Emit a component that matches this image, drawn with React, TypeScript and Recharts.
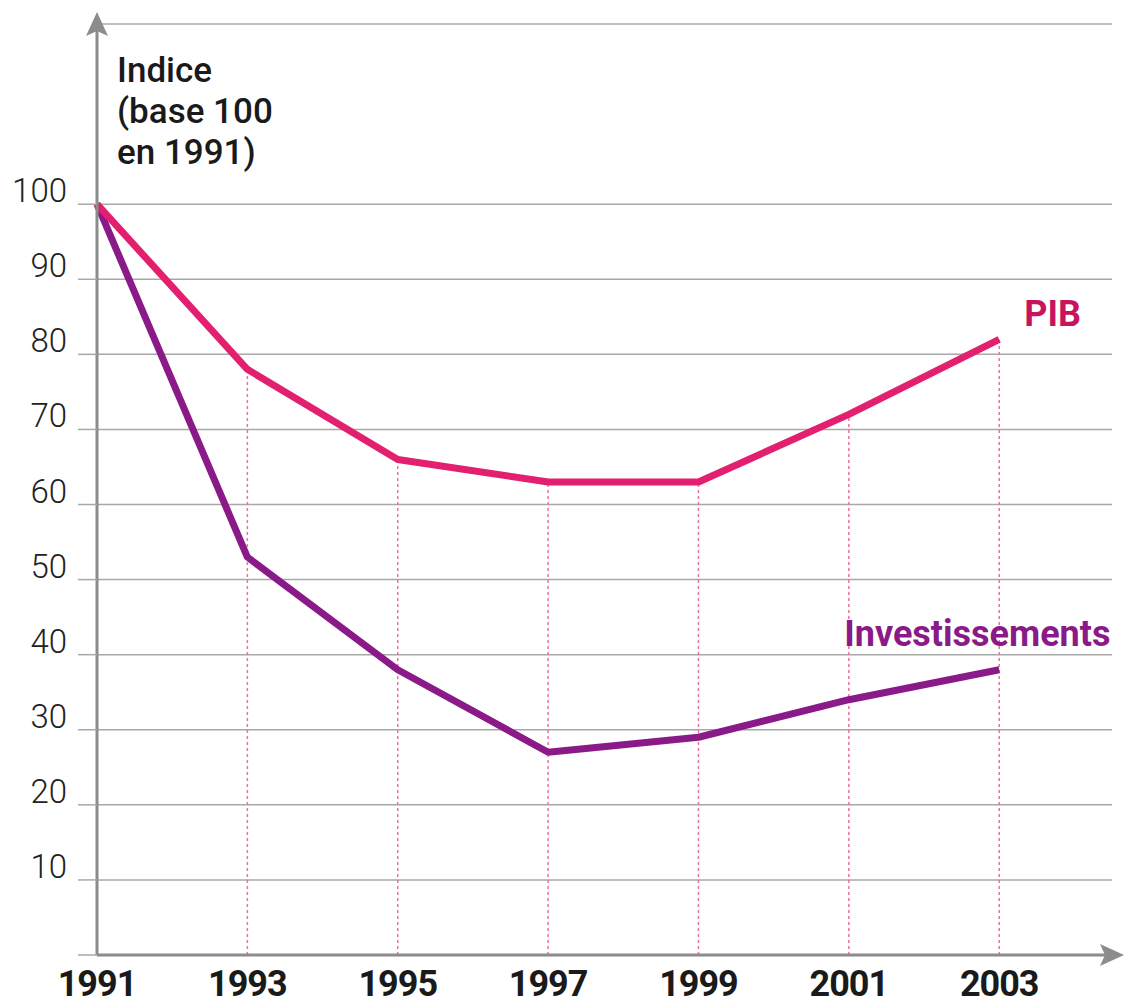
import {
  CartesianGrid,
  LabelList,
  Line,
  LineChart,
  ReferenceLine,
  XAxis,
  YAxis,
} from "recharts";

const years = [1991, 1993, 1995, 1997, 1999, 2001, 2003];
const pib = [100, 78, 66, 63, 63, 72, 82];
const investissements = [100, 53, 38, 27, 29, 34, 38];
const yTicks = [0, 10, 20, 30, 40, 50, 60, 70, 80, 90, 100];
const yTitle = ["Indice", "(base 100", "en 1991)"];

const data = years.map((year, i) => ({
  year,
  pib: pib[i],
  investissements: investissements[i],
}));

const PIB_COLOR = "#e2206f";
const PIB_TEXT = "#c8145f";
const INV_COLOR = "#8b1a89";
const AXIS_GREY = "#8c8c8c";
const GRID_GREY = "#a8a8a8";

function YTick({ x, y, payload }: any) {
  if (payload.value === 0) return <g />;
  return (
    <text
      x={x}
      y={y}
      dy={-2}
      textAnchor="end"
      fill="#222"
      fontFamily="Roboto, sans-serif"
      fontWeight={300}
      fontSize={33}
    >
      {payload.value}
    </text>
  );
}

function XTick({ x, y, payload }: any) {
  return (
    <text
      x={x}
      y={y}
      dy={33}
      textAnchor="middle"
      fill="#1a1a1a"
      fontFamily="Roboto, sans-serif"
      fontWeight={700}
      fontSize={36}
      letterSpacing={-1}
    >
      {payload.value}
    </text>
  );
}

function YTitle({ viewBox }: any) {
  const left = viewBox.x + viewBox.width + 20;
  return (
    <text
      fill="#1a1a1a"
      fontFamily="Roboto, sans-serif"
      fontWeight={500}
      fontSize={35}
    >
      {yTitle.map((line, i) => (
        <tspan key={line} x={left} y={viewBox.y + 58 + i * 41}>
          {line}
        </tspan>
      ))}
    </text>
  );
}

function endLabel(text: string, color: string, dx: number, dy: number) {
  return ({ x, y, index }: any) =>
    index === years.length - 1 ? (
      <text
        x={x + dx}
        y={y + dy}
        fill={color}
        fontFamily="Roboto, sans-serif"
        fontWeight={700}
        fontSize={36}
      >
        {text}
      </text>
    ) : (
      <g />
    );
}

export default function App() {
  return (
    <div style={{ width: 1124, height: 1007, background: "#fff" }}>
      <style>{`body{margin:0}`}</style>
      <svg width={0} height={0} style={{ position: "absolute" }}>
        <defs>
          <marker
            id="axis-arrow"
            markerUnits="userSpaceOnUse"
            markerWidth={26}
            markerHeight={24}
            refX={12}
            refY={11}
            orient="auto-start-reverse"
          >
            <path d="M0,0 L24,11 L0,22 L5,11 Z" fill={AXIS_GREY} />
          </marker>
        </defs>
      </svg>
      <LineChart
        width={1124}
        height={1007}
        data={data}
        margin={{ top: 24, right: 12, bottom: 0, left: 0 }}
      >
        <CartesianGrid
          vertical={false}
          stroke={GRID_GREY}
          strokeWidth={1.5}
        />
        <XAxis
          dataKey="year"
          type="number"
          domain={[1991, 2004.5]}
          ticks={years}
          height={52}
          tickLine={false}
          tick={<XTick />}
          axisLine={{
            stroke: AXIS_GREY,
            strokeWidth: 3,
            markerEnd: "url(#axis-arrow)",
          }}
        />
        <YAxis
          type="number"
          domain={[0, 124]}
          ticks={yTicks}
          width={97}
          tickSize={19}
          tickMargin={11}
          tickLine={{ stroke: GRID_GREY, strokeWidth: 1.5 }}
          tick={<YTick />}
          axisLine={{
            stroke: AXIS_GREY,
            strokeWidth: 3,
            markerStart: "url(#axis-arrow)",
          }}
          label={{ content: <YTitle /> }}
        />
        {years.slice(1).map((year, i) => (
          <ReferenceLine
            key={year}
            segment={[
              { x: year, y: 0 },
              { x: year, y: pib[i + 1] },
            ]}
            stroke="#e8739f"
            strokeWidth={1.5}
            strokeDasharray="3 3"
          />
        ))}
        <Line
          dataKey="investissements"
          stroke={INV_COLOR}
          strokeWidth={7}
          strokeLinejoin="round"
          dot={false}
          isAnimationActive={false}
        >
          <LabelList content={endLabel("Investissements", INV_COLOR, -155, -24)} />
        </Line>
        <Line
          dataKey="pib"
          stroke={PIB_COLOR}
          strokeWidth={7}
          strokeLinejoin="round"
          dot={false}
          isAnimationActive={false}
        >
          <LabelList content={endLabel("PIB", PIB_TEXT, 25, -13)} />
        </Line>
      </LineChart>
    </div>
  );
}
